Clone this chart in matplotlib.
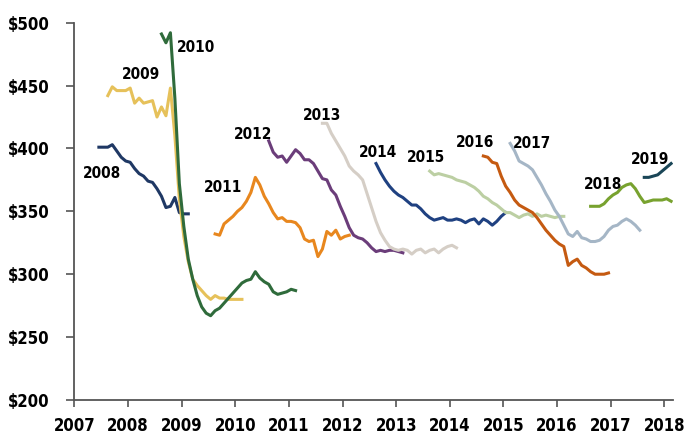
import numpy as np
import matplotlib
matplotlib.use("Agg")
import matplotlib.pyplot as plt

plt.rcParams['font.family'] = ['DejaVu Sans']
plt.rcParams['font.stretch'] = 'condensed'

# forecast vintages: label, first month (year, month), monthly values ($)
labels = ['2008', '2009', '2010', '2011', '2012', '2013',
          '2014', '2015', '2016', '2017', '2018', '2019']
starts = [(2007, 6), (2007, 8), (2008, 8), (2009, 8), (2010, 8), (2011, 8),
          (2012, 8), (2013, 8), (2014, 8), (2015, 2), (2016, 8), (2017, 8)]

v2008 = [401, 401, 401, 403, 398, 393, 390, 389, 384, 380, 378, 374, 373, 368,
         362, 353, 354, 361, 349, 348, 348]
v2009 = [442, 449, 446, 446, 446, 448, 436, 440, 436, 437, 438, 425, 433, 426,
         448, 410, 360, 330, 310, 296, 291, 287, 283, 280, 283, 281, 281, 280,
         280, 280, 280]
v2010 = [491, 484, 492, 440, 372, 338, 312, 296, 283, 274, 269, 267, 271, 273,
         277, 281, 285, 289, 293, 295, 296, 302, 297, 294, 292, 286, 284, 285,
         286, 288, 287]
v2011 = [332, 331, 340, 343, 346, 350, 353, 358, 365, 377, 371, 362, 356, 349,
         344, 345, 342, 342, 341, 337, 328, 326, 327, 314, 320, 334, 331, 335,
         328, 330, 331]
v2012 = [406, 397, 393, 394, 389, 394, 399, 396, 391, 391, 388, 382, 376, 375,
         367, 363, 354, 346, 337, 331, 329, 328, 325, 321, 318, 319, 318, 319,
         319, 318, 317]
v2013 = [420, 420, 412, 406, 400, 394, 386, 382, 379, 375, 364, 353, 342, 333,
         327, 322, 320, 319, 320, 319, 316, 319, 320, 317, 319, 320, 317, 320,
         322, 323, 321]
v2014 = [388, 381, 375, 370, 366, 363, 361, 358, 355, 355, 352, 348, 345, 343,
         344, 345, 343, 343, 344, 343, 341, 343, 344, 340, 344, 342, 339, 342,
         346, 349]
v2015 = [382, 379, 380, 379, 378, 377, 375, 374, 373, 371, 369, 366, 362, 360,
         357, 355, 352, 349, 349, 347, 345, 347, 348, 346, 348, 346, 347, 346,
         345, 346, 346]
v2016 = [394, 393, 389, 388, 378, 370, 365, 359, 355, 353, 351, 349, 345, 340,
         335, 331, 327, 324, 322, 307, 310, 312, 307, 305, 302, 300, 300, 300,
         301]
v2017 = [404, 398, 390, 388, 386, 383, 377, 371, 364, 358, 351, 346, 339, 332,
         330, 334, 329, 328, 326, 326, 327, 330, 335, 338, 339, 342, 344, 342,
         339, 335]
v2018 = [354, 354, 354, 356, 360, 363, 365, 369, 371, 372, 368, 362, 357, 358,
         359, 359, 359, 360, 358]
v2019 = [377, 377, 378, 379, 382, 385, 388]

series = [v2008, v2009, v2010, v2011, v2012, v2013,
          v2014, v2015, v2016, v2017, v2018, v2019]

colors = ['#1f3864', '#e6c15a', '#2f6b3b', '#e8871e', '#6b3d7a', '#d5cec6',
          '#1f4181', '#bccfa3', '#c55a11', '#a5b6c6', '#78a22f', '#1a4657']

# where each vintage label sits (decimal year, $)
label_pos = [(2007.51, 380), (2008.24, 459), (2009.27, 480), (2009.77, 369),
             (2010.34, 411), (2011.62, 426), (2012.66, 397), (2013.55, 393),
             (2014.47, 405), (2015.53, 404), (2016.86, 371), (2017.73, 391)]

fig = plt.figure(figsize=(6.86, 4.36), dpi=100)
ax = fig.add_axes([0.1083, 0.0826, 0.8727, 0.8654])

for lab, (yr, mo), vals, c, (lx, ly) in zip(labels, starts, series, colors, label_pos):
    x = yr + (mo - 0.5) / 12 + np.arange(len(vals)) / 12
    ax.plot(x, vals, color=c, lw=2.2)
    ax.text(lx, ly, lab, ha='center', va='center', fontsize=11,
            fontweight='bold', color='black')

ax.set_xlim(2007, 2018.16)
ax.set_ylim(200, 500)
ax.set_xticks(range(2007, 2019))
ax.set_yticks(range(200, 501, 50))
ax.set_yticklabels(['$%d' % v for v in range(200, 501, 50)])

for s in ['top', 'right']:
    ax.spines[s].set_visible(False)
for s in ['left', 'bottom']:
    ax.spines[s].set_color('#555555')
    ax.spines[s].set_linewidth(1.3)

ax.tick_params(axis='x', direction='out', length=5, width=1.2, color='#555555',
               labelsize=12, pad=7)
ax.tick_params(axis='y', direction='out', length=6, width=1.2, color='#555555',
               labelsize=12, pad=12)
for t in ax.get_xticklabels() + ax.get_yticklabels():
    t.set_fontweight('bold')

plt.savefig("out.png", dpi=100)
